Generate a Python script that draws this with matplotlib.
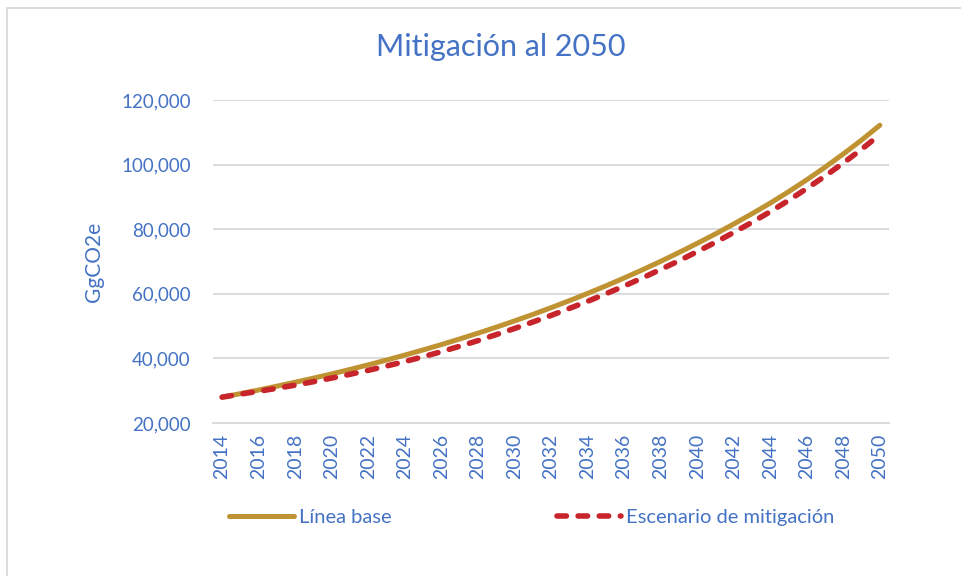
import matplotlib.pyplot as plt
from matplotlib.patches import Rectangle
from matplotlib.ticker import FuncFormatter
import numpy as np

years = list(range(2014, 2051))
linea_base = [
    28000, 29090, 30220, 31400, 32620, 33890, 35210, 36580, 38010, 39490,
    41030, 42620, 44280, 46010, 47800, 49660, 51600, 53600, 55690, 57860,
    60110, 62450, 64890, 67410, 70040, 72770, 75600, 78540, 81600, 84780,
    88080, 91600, 95300, 99200, 103300, 107600, 112200,
]
mitigacion = [
    28000, 28940, 29820, 30750, 31720, 32790, 33910, 35080, 36310, 37640,
    39030, 40520, 42080, 43760, 45500, 47360, 49250, 51250, 53290, 55460,
    57660, 60000, 62390, 64910, 67540, 70220, 73050, 75940, 79000, 82130,
    85430, 88900, 92600, 96450, 100500, 104750, 109300,
]

blue = "#4472C4"
font = "Lato"

fig = plt.figure(figsize=(9.62, 5.76), dpi=100)
ax = fig.add_axes([213 / 962, 1 - 423 / 576, (889 - 213) / 962, (423 - 100) / 576])

ax.plot(years, linea_base, color="#BF9232", lw=3.6, solid_capstyle="round",
        label="Línea base", zorder=3)
ax.plot(years, mitigacion, color="#C8242B", lw=4, dashes=(1.7, 2.1),
        dash_capstyle="round", label="Escenario de mitigación", zorder=4)

ax.set_xlim(2013.5, 2050.5)
ax.set_ylim(20000, 120000)
ax.set_yticks(np.arange(20000, 120001, 20000))
ax.yaxis.set_major_formatter(FuncFormatter(lambda v, p: f"{int(v):,}"))
ax.set_xticks(years[::2])
ax.set_xticklabels([str(y) for y in years[::2]], rotation=90)
ax.grid(axis="y", color="#D9D9D9", lw=1.3)
ax.set_axisbelow(True)
for s in ["top", "right", "left"]:
    ax.spines[s].set_visible(False)
ax.spines["bottom"].set_color("#D9D9D9")
ax.spines["bottom"].set_linewidth(1.3)
ax.tick_params(length=0, labelsize=14, labelcolor=blue)
ax.tick_params(axis="x", pad=8)
ax.tick_params(axis="y", pad=16, labelsize=13.5)
for lab in ax.get_xticklabels() + ax.get_yticklabels():
    lab.set_fontfamily(font)

ax.set_ylabel("GgCO2e", fontsize=15, color=blue, fontfamily=font, labelpad=12)
fig.text(0.521, 1 - 47 / 576, "Mitigación al 2050", ha="center", va="center",
         fontsize=22, color=blue, fontfamily=font)

leg = fig.legend(loc="center", bbox_to_anchor=(0.553, 1 - 517 / 576), ncol=2,
                 frameon=False, handlelength=3.2, handletextpad=0.25,
                 columnspacing=8.2, prop={"family": font, "size": 14.5})
for t in leg.get_texts():
    t.set_color(blue)

fig.patches.append(Rectangle((7 / 962, -0.1), 1.1, 1.1 - 8 / 576,
                             transform=fig.transFigure, fill=False,
                             edgecolor="#D9D9D9", lw=1.3))

fig.savefig("out.png", dpi=100)
